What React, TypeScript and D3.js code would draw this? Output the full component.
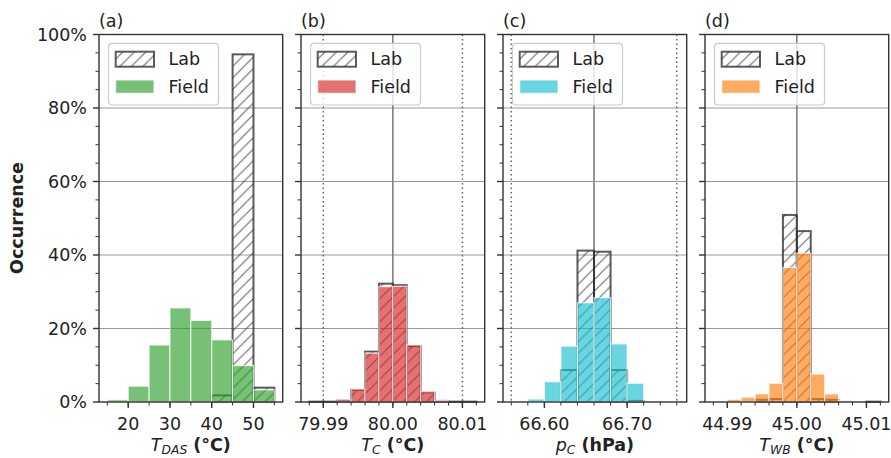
import { useEffect, useRef } from "react";
import * as d3 from "d3";

// percent of samples per bin
const yTicks = [0, 20, 40, 60, 80, 100];
const yMinor = [5, 10, 15, 25, 30, 35, 45, 50, 55, 65, 70, 75, 85, 90, 95];

const binsA = [15, 20, 25, 30, 35, 40, 45, 50];
const labA = [0, 0, 0, 0, 0, 1.8, 94.6, 3.9];
const fieldA = [0.6, 4.3, 15.5, 25.6, 22.2, 16.9, 9.9, 3.3];

const binsB = [79.988, 79.99, 79.992, 79.994, 79.996, 79.998, 80.0, 80.002, 80.004, 80.006, 80.008, 80.01];
const labB = [0.1, 0.1, 0.4, 3.3, 13.7, 32.2, 31.8, 15.2, 2.6, 0.3, 0.1, 0.1];
const fieldB = [0, 0, 0.6, 3.5, 13.3, 31.4, 31.5, 15.5, 2.8, 0.4, 0, 0];

const binsC = [66.56, 66.58, 66.6, 66.62, 66.64, 66.66, 66.68, 66.7, 66.72, 66.74];
const labC = [0, 0, 0, 8.7, 41.2, 40.9, 8.7, 0.3, 0, 0];
const fieldC = [0, 0.8, 5.5, 15.2, 27.0, 28.4, 15.8, 5.1, 0, 0];

const binsD = [44.988, 44.99, 44.992, 44.994, 44.996, 44.998, 45.0, 45.002, 45.004, 45.006, 45.008, 45.01];
const labD = [0, 0, 0, 0.6, 0.8, 50.9, 46.5, 0.8, 0.6, 0, 0, 0.1];
const fieldD = [0, 0.7, 1.3, 2.2, 5.1, 36.6, 40.5, 7.6, 2.2, 0.4, 0, 0];

const ticksA = [20, 30, 40, 50];
const ticksB = [79.99, 80.0, 80.01];
const ticksC = [66.6, 66.7];
const ticksD = [44.99, 45.0, 45.01];

const panels = [
  { tag: "(a)", sym: "T", sub: "DAS", unit: " (°C)", bins: binsA, w: 5, lab: labA, field: fieldA, color: "#2ca02c",
    domain: [13, 57], ticks: ticksA, fmt: (v) => d3.format("d")(v), minorStep: 5, minorFrom: 15, minorTo: 55, center: null, limits: [] },
  { tag: "(b)", sym: "T", sub: "C", unit: " (°C)", bins: binsB, w: 0.002, lab: labB, field: fieldB, color: "#d62728",
    domain: [79.9868, 80.0132], ticks: ticksB, fmt: d3.format(".2f"), minorStep: 0.002, minorFrom: 79.988, minorTo: 80.012, center: 80.0, limits: [79.99, 80.01] },
  { tag: "(c)", sym: "p", sub: "C", unit: " (hPa)", bins: binsC, w: 0.02, lab: labC, field: fieldC, color: "#17becf",
    domain: [66.55, 66.772], ticks: ticksC, fmt: d3.format(".2f"), minorStep: 0.02, minorFrom: 66.56, minorTo: 66.76, center: 66.66, limits: [66.56, 66.76] },
  { tag: "(d)", sym: "T", sub: "WB", unit: " (°C)", bins: binsD, w: 0.002, lab: labD, field: fieldD, color: "#ff7f0e",
    domain: [44.9868, 45.0132], ticks: ticksD, fmt: d3.format(".2f"), minorStep: 0.002, minorFrom: 44.988, minorTo: 45.012, center: 45.0, limits: [] },
];

const W = 891, H = 458;
const top = 34.5, bottom = 402;
const lefts = [99, 301, 503, 705];
const pw = 183.7;
const FONT = "DejaVu Sans, sans-serif";
const FS = 17.5;
const edge = "#333";

const App = () => {
  const svgRef = useRef();

  useEffect(() => {
    const svg = d3.select(svgRef.current);
    svg.selectAll("*").remove();

    const defs = svg.append("defs");
    const hs = 11.5;
    defs.append("pattern")
      .attr("id", "hatch")
      .attr("patternUnits", "userSpaceOnUse")
      .attr("width", hs).attr("height", hs)
      .append("path")
      .attr("d", `M0,${hs} L${hs},0 M${-hs / 2},${hs / 2} L${hs / 2},${-hs / 2} M${hs / 2},${hs * 1.5} L${hs * 1.5},${hs / 2}`)
      .attr("stroke", edge).attr("stroke-opacity", 0.8).attr("stroke-width", 1);

    const y = d3.scaleLinear().domain([0, 100]).range([bottom, top]);

    panels.forEach((p, i) => {
      const left = lefts[i];
      const x = d3.scaleLinear().domain(p.domain).range([left, left + pw]);
      const g = svg.append("g").attr("font-family", FONT);

      // horizontal grid
      g.selectAll(".grid").data(yTicks.slice(1, -1)).enter().append("line")
        .attr("x1", left).attr("x2", left + pw)
        .attr("y1", (d) => y(d)).attr("y2", (d) => y(d))
        .attr("stroke", "#999").attr("stroke-width", 1.2);

      // spec limits + nominal value
      g.selectAll(".lim").data(p.limits).enter().append("line")
        .attr("x1", (d) => x(d)).attr("x2", (d) => x(d))
        .attr("y1", top).attr("y2", bottom)
        .attr("stroke", "#666").attr("stroke-width", 1.5).attr("stroke-dasharray", "1.5,3");
      if (p.center !== null) {
        g.append("line")
          .attr("x1", x(p.center)).attr("x2", x(p.center))
          .attr("y1", top).attr("y2", bottom)
          .attr("stroke", "#777").attr("stroke-width", 1.5);
      }

      const labData = p.bins.map((b, k) => ({ b, v: p.lab[k] })).filter((d) => d.v > 0);
      const fieldData = p.bins.map((b, k) => ({ b, v: p.field[k] })).filter((d) => d.v > 0);

      // lab bars
      g.selectAll(".lab").data(labData).enter().append("rect")
        .attr("x", (d) => x(d.b)).attr("width", (d) => x(d.b + p.w) - x(d.b))
        .attr("y", (d) => y(d.v)).attr("height", (d) => y(0) - y(d.v))
        .attr("fill", "url(#hatch)")
        .attr("stroke", edge).attr("stroke-opacity", 0.8).attr("stroke-width", 2);

      // field bars
      g.selectAll(".field").data(fieldData).enter().append("rect")
        .attr("x", (d) => x(d.b)).attr("width", (d) => x(d.b + p.w) - x(d.b))
        .attr("y", (d) => y(d.v)).attr("height", (d) => y(0) - y(d.v))
        .attr("fill", p.color).attr("fill-opacity", 0.65)
        .attr("stroke", "#fff").attr("stroke-opacity", 0.7).attr("stroke-width", 1.2);

      // spines
      g.append("rect")
        .attr("x", left).attr("y", top).attr("width", pw).attr("height", bottom - top)
        .attr("fill", "none").attr("stroke", edge).attr("stroke-width", 1.4);

      // y ticks
      g.selectAll(".ymaj").data(yTicks).enter().append("line")
        .attr("x1", left - 6).attr("x2", left)
        .attr("y1", (d) => y(d)).attr("y2", (d) => y(d))
        .attr("stroke", edge).attr("stroke-width", 1.4);
      g.selectAll(".ymin").data(yMinor).enter().append("line")
        .attr("x1", left - 3.5).attr("x2", left)
        .attr("y1", (d) => y(d)).attr("y2", (d) => y(d))
        .attr("stroke", edge).attr("stroke-width", 1);
      if (i === 0) {
        g.selectAll(".ylab").data(yTicks).enter().append("text")
          .attr("x", left - 12).attr("y", (d) => y(d)).attr("dy", "0.36em")
          .attr("text-anchor", "end").attr("font-size", FS).attr("fill", "#222")
          .text((d) => `${d}%`);
      }

      // x ticks
      const nMinor = Math.round((p.minorTo - p.minorFrom) / p.minorStep);
      const minor = d3.range(nMinor + 1).map((k) => p.minorFrom + k * p.minorStep);
      g.selectAll(".xmin").data(minor).enter().append("line")
        .attr("x1", (d) => x(d)).attr("x2", (d) => x(d))
        .attr("y1", bottom).attr("y2", bottom + 3.5)
        .attr("stroke", edge).attr("stroke-width", 1);
      g.selectAll(".xmaj").data(p.ticks).enter().append("line")
        .attr("x1", (d) => x(d)).attr("x2", (d) => x(d))
        .attr("y1", bottom).attr("y2", bottom + 6)
        .attr("stroke", edge).attr("stroke-width", 1.4);
      g.selectAll(".xlab").data(p.ticks).enter().append("text")
        .attr("x", (d) => x(d)).attr("y", 430)
        .attr("text-anchor", "middle").attr("font-size", FS).attr("fill", "#222")
        .text((d) => p.fmt(d));

      // axis label
      const lab = g.append("text")
        .attr("x", left + pw / 2).attr("y", 451)
        .attr("text-anchor", "middle").attr("font-size", FS).attr("fill", "#222");
      lab.append("tspan").attr("font-style", "italic").text(p.sym);
      lab.append("tspan").attr("font-style", "italic").attr("font-size", 12.3).attr("dy", 3).text(p.sub);
      lab.append("tspan").attr("font-weight", "bold").attr("dy", -3).text(p.unit);

      // panel tag
      g.append("text")
        .attr("x", left).attr("y", 26.5)
        .attr("font-size", FS).attr("fill", "#222")
        .text(p.tag);

      // legend
      const lg = g.append("g").attr("transform", `translate(${left + 9.5},43.3)`);
      lg.append("rect")
        .attr("width", 110).attr("height", 61.7).attr("rx", 3.5)
        .attr("fill", "#fff").attr("fill-opacity", 0.8)
        .attr("stroke", "#ccc").attr("stroke-width", 1.2);
      lg.append("rect")
        .attr("x", 7.2).attr("y", 8.4).attr("width", 38.3).attr("height", 15)
        .attr("fill", "url(#hatch)")
        .attr("stroke", edge).attr("stroke-opacity", 0.8).attr("stroke-width", 2);
      lg.append("rect")
        .attr("x", 7.2).attr("y", 36.7).attr("width", 38.3).attr("height", 13.3)
        .attr("fill", p.color).attr("fill-opacity", 0.65)
        .attr("stroke", "#fff").attr("stroke-opacity", 0.7).attr("stroke-width", 1.2);
      lg.append("text").attr("x", 60).attr("y", 21.7)
        .attr("font-size", FS).attr("fill", "#222").text("Lab");
      lg.append("text").attr("x", 60).attr("y", 50)
        .attr("font-size", FS).attr("fill", "#222").text("Field");
    });

    svg.append("text")
      .attr("transform", `translate(23,218) rotate(-90)`)
      .attr("text-anchor", "middle")
      .attr("font-family", FONT).attr("font-size", FS).attr("font-weight", "bold").attr("fill", "#222")
      .text("Occurrence");
  }, []);

  return (
    <svg
      ref={svgRef}
      width={W}
      height={H}
      style={{ position: "absolute", left: 0, top: 0, background: "#fff" }}
    ></svg>
  );
};

export default App;
